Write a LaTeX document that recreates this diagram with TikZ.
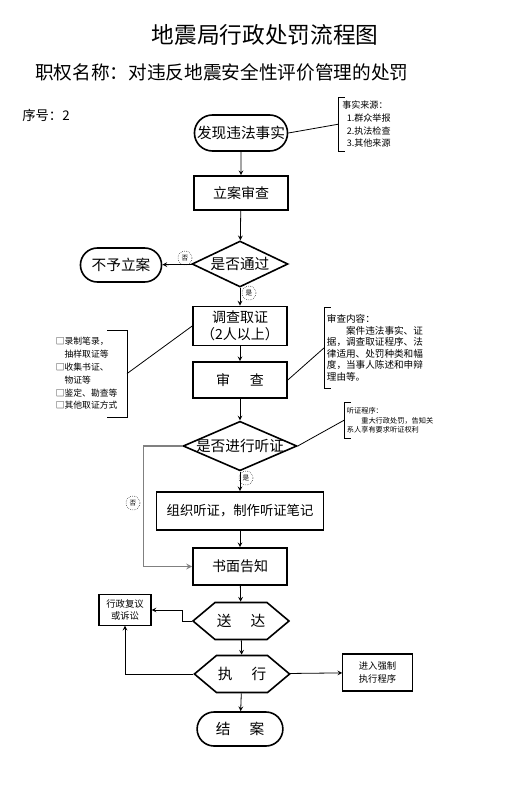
\documentclass[tikz,border=0pt]{standalone}
\usepackage{fontspec}
\setmainfont{Noto Sans CJK SC}
\usetikzlibrary{shapes.geometric, shapes.misc, shapes.symbols, arrows, positioning}

\begin{document}
\begin{tikzpicture}[x=0.75pt, y=-0.75pt]
	% Styles
	\tikzstyle{box} = [draw, line width=1.2pt, rectangle, minimum height=26pt, minimum width=70.5pt, align=center, font=\fontsize{10.5}{13}\selectfont]
	\tikzstyle{terminal} = [draw, line width=1.2pt, rounded rectangle, minimum height=26pt, minimum width=70.5pt, align=center, font=\fontsize{11}{13}\selectfont]
	\tikzstyle{decision} = [draw, line width=1.2pt, diamond, aspect=2.1, inner sep=0pt, align=center, font=\fontsize{11}{13}\selectfont]
	\tikzstyle{hexa} = [draw, line width=1.2pt, signal, signal to=west and east, signal pointer angle=80, inner sep=1pt, minimum height=27.75pt, minimum width=72pt, font=\fontsize{11}{13}\selectfont]
	\tikzstyle{smallbox} = [draw, line width=0.8pt, rectangle, align=center, font=\fontsize{7}{9.5}\selectfont]
	\tikzstyle{remark} = [align=left, inner sep=3pt]
	\tikzstyle{yesno} = [draw, circle, densely dotted, inner sep=0pt, minimum size=10.5pt, font=\fontsize{5}{5}\selectfont]
	\tikzstyle{arrow} = [->, >=stealth, line width=0.6pt]
	\tikzstyle{link} = [line width=0.6pt]

	\useasboundingbox (0,0) rectangle (505,788);

	% Titles
	\node (title) at (265,35) {\fontsize{17}{20}\selectfont 地震局行政处罚流程图};
	\node (subtitle) [anchor=west, inner sep=0pt] at (35,72) {\fontsize{14}{17}\selectfont 职权名称：对违反地震安全性评价管理的处罚};
	\node (serial) [anchor=west, inner sep=0pt] at (22,115) {\fontsize{10}{12}\selectfont 序号：2};

	% Nodes
	\node (found) [terminal, minimum width=76.5pt, minimum height=27pt] at (241,133) {发现违法事实};
	\node (register) [box, minimum height=25.5pt] at (241,193) {立案审查};
	\node (pass) [decision, minimum width=72pt, minimum height=34.5pt] at (240,264) {是否通过};
	\node (reject) [terminal, minimum width=67.5pt, minimum height=25.5pt] at (121,265) {不予立案};
	\node (survey) [box, minimum height=28.5pt] at (240,326) {调查取证\\（2人以上）};
	\node (review) [box, minimum height=27pt] at (240,380) {审\hspace{1.4em}查};
	\node (hearing) [decision, inner xsep=-2pt, aspect=2.3] at (240,446) {是否进行听证};
	\node (organize) [box, minimum width=125pt, minimum height=28.5pt, font=\fontsize{10}{12}\selectfont] at (240,511) {组织听证，制作听证笔记};
	\node (notify) [box, minimum height=27.75pt] at (240,566.5) {书面告知};
	\node (deliver) [hexa] at (241,621) {送\hspace{1.3em}达};
	\node (execute) [hexa, minimum width=71pt] at (242,674) {执\hspace{1.3em}行};
	\node (close) [terminal, minimum width=71pt, minimum height=25.5pt] at (240,729) {结\hspace{1.3em}案};
	\node (appeal) [smallbox, minimum width=39pt, minimum height=19.5pt] at (125,610) {行政复议\\或诉讼};
	\node (enforce) [smallbox, minimum width=52pt, minimum height=27.75pt] at (377.5,672.5) {进入强制\\执行程序};

	% Notes
	\node (srcnote) [remark, anchor=north west, minimum height=39.75pt, font=\fontsize{6.8}{9.4}\selectfont] at (338,97) {事实来源：\\\hspace*{0.5em}1.群众举报\\\hspace*{0.5em}2.执法检查\\\hspace*{0.5em}3.其他来源};
	\node (evinote) [remark, anchor=north east, minimum height=65pt, inner xsep=7pt, font=\fontsize{6.6}{9.6}\selectfont] at (127,330) {□录制笔录，\\\hspace*{1em}抽样取证等\\□收集书证、\\\hspace*{1em}物证等\\□鉴定、勘查等\\□其他取证方式};
	\node (chknote) [remark, anchor=north west, minimum height=61pt, inner xsep=2pt, font=\fontsize{7.2}{8.6}\selectfont] at (324,307) {审查内容：\\\hspace*{2em}案件违法事实、证\\据，调查取证程序、法\\律适用、处罚种类和幅\\度，当事人陈述和申辩\\理由等。};
	\node (hearnote) [remark, anchor=north west, minimum height=27pt, inner xsep=2pt, font=\fontsize{5.4}{6.8}\selectfont] at (344,402) {听证程序：\\\hspace*{2em}重大行政处罚，告知关\\系人享有要求听证权利};

	% Brackets
	\draw [link] ([xshift=5pt]srcnote.north west) -- (srcnote.north west) -- (srcnote.south west) -- ([xshift=5pt]srcnote.south west);
	\draw [link] ([xshift=-15pt]evinote.north east) -- (evinote.north east) -- (evinote.south east) -- ([xshift=-15pt]evinote.south east);
	\draw [link] ([xshift=5pt]chknote.north west) -- (chknote.north west) -- (chknote.south west) -- ([xshift=5pt]chknote.south west);
	\draw [link] ([xshift=5pt]hearnote.north west) -- (hearnote.north west) -- (hearnote.south west) -- ([xshift=5pt]hearnote.south west);

	% Yes / no tags
	\node (no1) [yesno] at (185,258) {否};
	\node (yes1) [yesno] at (249,293) {是};
	\node (yes2) [yesno] at (246,478) {是};
	\node (no2) [yesno] at (133,503) {否};

	% Connections
	\draw [arrow] (found) -- (register);
	\draw [arrow] (register) -- (pass);
	\draw [arrow] (pass) -- (reject);
	\draw [arrow] (pass) -- (survey);
	\draw [arrow] (survey) -- (review);
	\draw [arrow] (review) -- (hearing);
	\draw [arrow] (hearing) -- (organize);
	\draw [arrow] (organize) -- (notify);
	\draw [arrow, gray, line width=1pt] (hearing.west) -- ++(-39,0) |- (notify.west);
	\draw [arrow] (notify) -- (deliver);
	\draw [arrow] (deliver) -- (execute);
	\draw [arrow] (execute) -- (close);
	\draw [arrow] (execute) -- (enforce);
	\draw [arrow] (deliver.west) -- ++(-9,0) |- (appeal.east);
	\draw [arrow] (execute.west) -| (appeal.south);

	% Note links
	\draw [link] (found.east) -- (srcnote.west);
	\draw [link] (evinote.east) -- (survey.west);
	\draw [link] (review.east) -- (chknote.west);
	\draw [link] (hearing.east) -- (hearnote.west);
\end{tikzpicture}
\end{document}
